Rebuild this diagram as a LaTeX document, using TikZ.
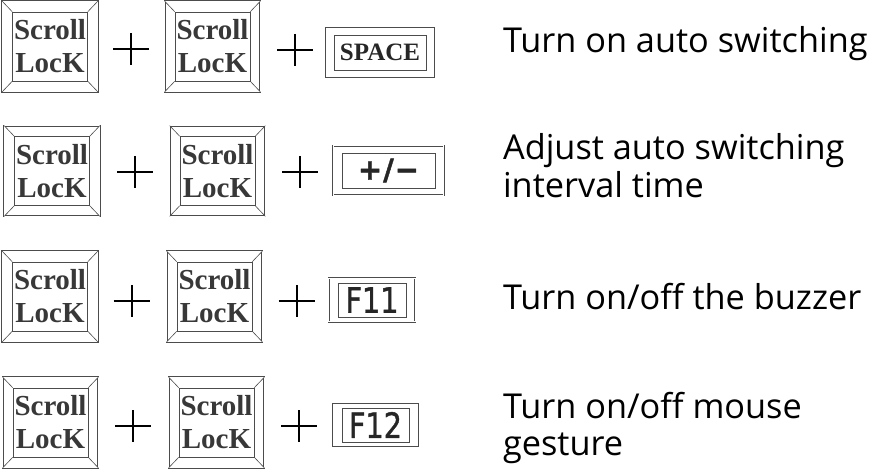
\documentclass[tikz,border=0pt]{standalone}
\usepackage{fontspec}
\setmainfont{Open Sans}
\newfontfamily\keyserif{Liberation Serif}
\newfontfamily\keysans{DejaVu Sans}
\newfontface\keysansfat[FakeBold=1.2]{DejaVu Sans}
\newfontface\keysansheavy[FakeBold=1.5]{DejaVu Sans Bold}
\usetikzlibrary{positioning}

\begin{document}
\begin{tikzpicture}[x=1pt, y=-1pt,
    keyline/.style={draw=black!70, line width=0.6pt},
    keyouter/.style={draw=black!70, line width=0.5pt, double=white, double distance=0.8pt},
    capkey/.style={keyline, minimum width=75pt, minimum height=69pt, inner sep=0pt,
        align=center, text=black!78, font=\keyserif\bfseries\fontsize{29}{33}\selectfont},
    fkey/.style={keyline, inner sep=0pt, minimum height=35pt, text=black!85},
    plusline/.style={line width=2pt},
    desc/.style={anchor=base west, font=\fontsize{34.3}{38}\selectfont}
]

        % 画布大小
        \useasboundingbox (0,0) rectangle (870,470);

        % 绘制 Scroll Lock 键（内框、外框、斜线）
        \foreach \r/\y/\xa/\xb in {1/46.5/50/212.5, 2/171/52/217.5, 3/296.5/50/214.5, 4/422.5/50.5/216.5} {
            \node[capkey] (k\r a) at (\xa, \y) {Scroll\\LocK};
            \node[capkey] (k\r b) at (\xb, \y) {Scroll\\LocK};
            \foreach \k in {a, b} {
                \draw[keyouter] ([shift={(-10,-10.5)}]k\r\k.north west) rectangle ([shift={(10,10.5)}]k\r\k.south east);
                \draw[keyline] (k\r\k.north west) -- ++(-10,-10.5)
                               (k\r\k.north east) -- ++(10,-10.5)
                               (k\r\k.south west) -- ++(-10,10.5)
                               (k\r\k.south east) -- ++(10,10.5);
            }
        }

        % 加号
        \foreach \n/\x/\y in {1a/131/49, 1b/295/50, 2a/135/172, 2b/300/172,
                              3a/131.5/301, 3b/296.5/301, 4a/133/426, 4b/299/426} {
            \coordinate (p\n) at (\x, \y);
            \draw[plusline] (p\n) ++(-18,0) -- ++(36,0)
                            (p\n) ++(0,-16) -- ++(0,32);
        }

        % 第三个键
        \node[fkey, minimum width=92pt, font=\keyserif\bfseries\fontsize{25}{25}\selectfont] (space) at (380, 52.5) {SPACE};
        \node[fkey, minimum width=93pt, font=\keysansheavy\fontsize{29}{29}\selectfont] (pm) at (388.5, 170.5) {+\kern1pt/\kern1pt−};
        \node[fkey, minimum width=68pt, minimum height=34pt, font=\keysansfat\fontsize{35}{35}\selectfont] (f11) at (372, 300) {\scalebox{0.82}[1]{F11}};
        \node[fkey, minimum width=67pt, minimum height=34pt, font=\keysansfat\fontsize{35}{35}\selectfont] (f12) at (375.5, 425) {\scalebox{0.82}[1]{F12}};
        \foreach \n/\dx/\dy in {space/7.5/6.5, pm/8.5/7, f11/9/4.5, f12/10/5} {
            \draw[keyouter] ([shift={(-\dx,-\dy)}]\n.north west) rectangle ([shift={(\dx,\dy)}]\n.south east);
        }

        % 功能说明
        \node[desc] (d1) at (499.5, 53) {Turn on auto switching};
        \node[desc] (d2) at (499.5, 160) {Adjust auto switching};
        \node[desc, below=38pt of d2.base west, anchor=base west] (d2b) {interval time};
        \node[desc] (d3) at (499.5, 309) {Turn on/off the buzzer};
        \node[desc] (d4) at (499.5, 418) {Turn on/off mouse};
        \node[desc, below=37pt of d4.base west, anchor=base west] (d4b) {gesture};

\end{tikzpicture}
\end{document}
